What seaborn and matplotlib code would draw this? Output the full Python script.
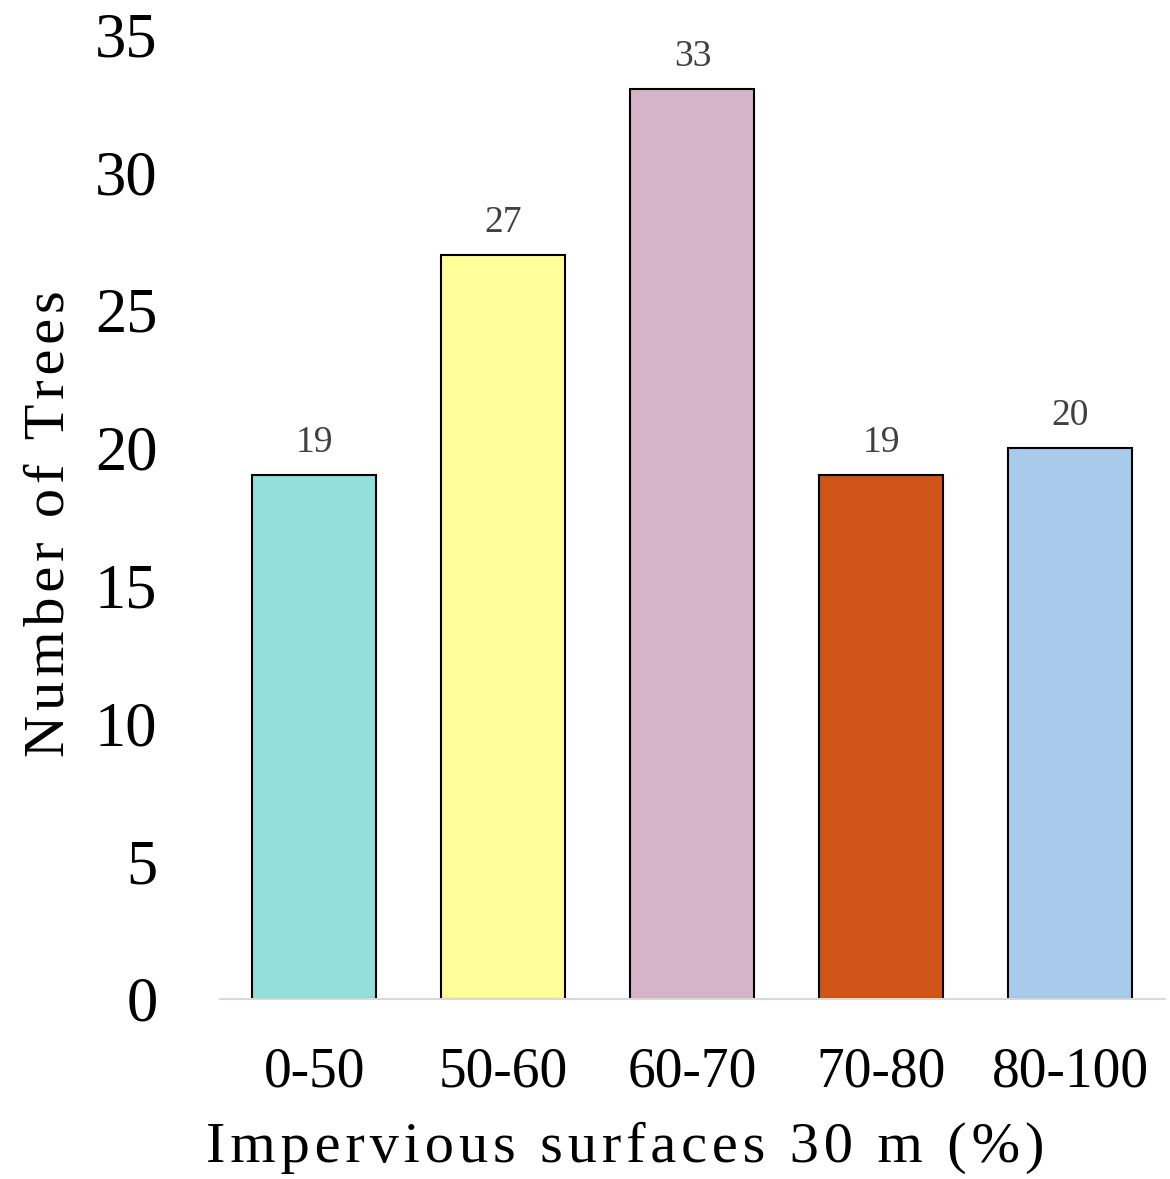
import matplotlib
matplotlib.use("Agg")
import matplotlib.pyplot as plt
import seaborn as sns
import pandas as pd

categories = ["0-50", "50-60", "60-70", "70-80", "80-100"]
tree_counts = [19, 27, 33, 19, 20]
bar_colors = ["#93DFDC", "#FFFE99", "#D5B3C8", "#CE5418", "#A9CBEB"]
y_title = "Number of Trees"
x_title = "Impervious surfaces 30 m (%)"

sns.set_theme(style="white")
plt.rcParams["font.family"] = ["Liberation Serif", "DejaVu Serif"]
plt.rcParams["text.color"] = "black"
plt.rcParams["axes.labelcolor"] = "black"
plt.rcParams["xtick.color"] = "black"
plt.rcParams["ytick.color"] = "black"


def spaced(s):
    # widen the tracking with hair spaces between letters
    return "\u200a".join(s)


df = pd.DataFrame({"range": categories, "count": tree_counts})

fig = plt.figure(figsize=(11.7, 11.79), dpi=100)
ax = fig.add_axes([0.188, 0.1527, 0.8077, 0.8183])

sns.barplot(data=df, x="range", y="count", hue="range", palette=bar_colors,
            legend=False, width=0.656, edgecolor="black", linewidth=1.5,
            ax=ax, saturation=1)

for i, v in enumerate(tree_counts):
    ax.text(i, v + 0.55, str(v), ha="center", va="bottom",
            fontsize=27, color="#404040")

ax.set_ylim(0, 35)
ax.set_xlim(-0.5, 4.5)
ax.set_yticks(range(0, 36, 5))
ax.tick_params(axis="y", labelsize=45, length=0, pad=45)
ax.tick_params(axis="x", labelsize=40, length=0, pad=34)

for s in ["top", "right", "left"]:
    ax.spines[s].set_visible(False)
ax.spines["bottom"].set_color("#D9D9D9")
ax.spines["bottom"].set_linewidth(1.5)

ax.set_ylabel(spaced(y_title), fontsize=42)
ax.yaxis.set_label_coords(-0.153, 0.493)
ax.set_xlabel(spaced(x_title), fontsize=42)
ax.xaxis.set_label_coords(0.4286, -0.127)

fig.savefig("out.png", dpi=100)
